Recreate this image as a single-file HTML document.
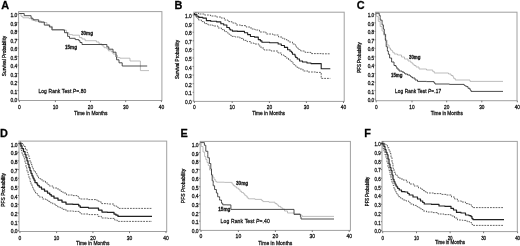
<!DOCTYPE html>
<html><head><meta charset="utf-8"><title>Figure</title>
<style>
html,body{margin:0;padding:0;background:#fff;}
svg{display:block;}
svg text{font-family:"Liberation Sans", sans-serif;fill:#111;stroke:#111;stroke-width:0.26px;}
</style></head><body>
<svg width="520" height="246" viewBox="0 0 520 246">
<rect width="520" height="246" fill="#fff"/>
<defs><filter id="b" x="-5%" y="-5%" width="110%" height="110%"><feGaussianBlur stdDeviation="0.45"/></filter></defs>
<g filter="url(#b)">
<g>
<rect x="18.6" y="11.6" width="143.3" height="88.9" fill="none" stroke="#a0a0a0" stroke-width="1"/>
<text x="1.3" y="9.2" font-size="10.9" font-weight="bold" style="fill:#000">A</text>
<text transform="translate(17.30 102.10) scale(0.880 1)" font-size="5.60" text-anchor="end">0.0</text><line x1="17.4" y1="99.1" x2="18.6" y2="99.1" stroke="#555" stroke-width="0.7"/>
<text transform="translate(17.30 93.60) scale(0.880 1)" font-size="5.60" text-anchor="end">0.1</text><line x1="17.4" y1="90.6" x2="18.6" y2="90.6" stroke="#555" stroke-width="0.7"/>
<text transform="translate(17.30 85.10) scale(0.880 1)" font-size="5.60" text-anchor="end">0.2</text><line x1="17.4" y1="82.1" x2="18.6" y2="82.1" stroke="#555" stroke-width="0.7"/>
<text transform="translate(17.30 76.60) scale(0.880 1)" font-size="5.60" text-anchor="end">0.3</text><line x1="17.4" y1="73.6" x2="18.6" y2="73.6" stroke="#555" stroke-width="0.7"/>
<text transform="translate(17.30 68.10) scale(0.880 1)" font-size="5.60" text-anchor="end">0.4</text><line x1="17.4" y1="65.1" x2="18.6" y2="65.1" stroke="#555" stroke-width="0.7"/>
<text transform="translate(17.30 59.60) scale(0.880 1)" font-size="5.60" text-anchor="end">0.5</text><line x1="17.4" y1="56.6" x2="18.6" y2="56.6" stroke="#555" stroke-width="0.7"/>
<text transform="translate(17.30 51.10) scale(0.880 1)" font-size="5.60" text-anchor="end">0.6</text><line x1="17.4" y1="48.1" x2="18.6" y2="48.1" stroke="#555" stroke-width="0.7"/>
<text transform="translate(17.30 42.60) scale(0.880 1)" font-size="5.60" text-anchor="end">0.7</text><line x1="17.4" y1="39.6" x2="18.6" y2="39.6" stroke="#555" stroke-width="0.7"/>
<text transform="translate(17.30 34.10) scale(0.880 1)" font-size="5.60" text-anchor="end">0.8</text><line x1="17.4" y1="31.1" x2="18.6" y2="31.1" stroke="#555" stroke-width="0.7"/>
<text transform="translate(17.30 25.60) scale(0.880 1)" font-size="5.60" text-anchor="end">0.9</text><line x1="17.4" y1="22.6" x2="18.6" y2="22.6" stroke="#555" stroke-width="0.7"/>
<text transform="translate(17.30 17.10) scale(0.880 1)" font-size="5.60" text-anchor="end">1.0</text><line x1="17.4" y1="14.1" x2="18.6" y2="14.1" stroke="#555" stroke-width="0.7"/>
<text transform="translate(19.30 109.00) scale(0.880 1)" font-size="5.60" text-anchor="middle">0</text><line x1="19.3" y1="100.5" x2="19.3" y2="102.1" stroke="#555" stroke-width="0.8"/>
<text transform="translate(55.40 109.00) scale(0.880 1)" font-size="5.60" text-anchor="middle">10</text><line x1="55.4" y1="100.5" x2="55.4" y2="102.1" stroke="#555" stroke-width="0.8"/>
<text transform="translate(90.50 109.00) scale(0.880 1)" font-size="5.60" text-anchor="middle">20</text><line x1="90.5" y1="100.5" x2="90.5" y2="102.1" stroke="#555" stroke-width="0.8"/>
<text transform="translate(125.70 109.00) scale(0.880 1)" font-size="5.60" text-anchor="middle">30</text><line x1="125.7" y1="100.5" x2="125.7" y2="102.1" stroke="#555" stroke-width="0.8"/>
<text transform="translate(161.40 109.00) scale(0.880 1)" font-size="5.60" text-anchor="middle">40</text><line x1="161.4" y1="100.5" x2="161.4" y2="102.1" stroke="#555" stroke-width="0.8"/>
<text transform="translate(90.80 114.80) scale(0.880 1)" font-size="5.60" text-anchor="middle">Time in Months</text>
<text transform="translate(6.0 56.0) rotate(-90) scale(0.950 1.06)" font-size="5.0" text-anchor="middle">Survival Probability</text>
<path d="M19.1 13.5 H21.0 V16.3 H22.9 V17.8 H29.2 V18.6 H31.7 V20.1 H34.9 V21.1 H41.2 V22.6 H46.9 V24.9 H50.0 V26.4 H52.5 V29.5 H63.2 V30.2 H66.4 V32.7 H68.9 V34.6 H72.5 V35.2 H79.4 V37.6 H82.0 V39.0 H85.1 V40.7 H96.4 V42.0 H99.0 V43.9 H102.0 V45.8 H104.0 V47.7 H107.0 V49.0 H108.4 V50.8 H111.6 V52.0 H113.0 V54.0 H116.0 V55.4 H117.5 V57.6 H120.0 V58.2 H128.0 V58.2 H130.0 V61.0 H140.4 V61.0 H140.4 V70.6 H149.0 V70.6" fill="none" stroke="#acacac" stroke-width="0.8" stroke-linejoin="round"/>
<path d="M19.1 13.5 H24.2 V15.7 H31.1 V18.2 H33.0 V19.8 H38.7 V22.0 H44.3 V25.1 H49.4 V27.0 H51.9 V29.9 H64.5 V32.7 H67.6 V36.4 H69.5 V38.3 H75.2 V39.6 H78.8 V40.7 H80.0 V42.5 H82.0 V44.5 H106.9 V46.9 H108.8 V49.2 H113.0 V52.2 H116.0 V57.0 H116.6 V59.8 H119.0 V62.8 H122.2 V66.0 H147.2 V66.0" fill="none" stroke="#3a3a3a" stroke-width="0.9" stroke-linejoin="round"/>
<text transform="translate(81.00 34.80) scale(0.880 1)" font-size="5.21" text-anchor="start" font-weight="bold">30mg</text>
<text transform="translate(65.00 48.80) scale(0.880 1)" font-size="5.21" text-anchor="start" font-weight="bold">15mg</text>
<text transform="translate(38.40 93.20) scale(0.880 1)" font-size="5.60" text-anchor="start" textLength="54.5">Log Rank Test <tspan font-style="italic">P</tspan>=.80</text>
</g>
<g>
<rect x="193.8" y="12.2" width="150.4" height="89.2" fill="none" stroke="#a0a0a0" stroke-width="1"/>
<text x="174.6" y="9.2" font-size="10.9" font-weight="bold" style="fill:#000">B</text>
<text transform="translate(191.80 103.86) scale(0.880 1)" font-size="5.49" text-anchor="end">0.0</text><line x1="192.6" y1="100.9" x2="193.8" y2="100.9" stroke="#555" stroke-width="0.7"/>
<text transform="translate(191.80 95.27) scale(0.880 1)" font-size="5.49" text-anchor="end">0.1</text><line x1="192.6" y1="92.3" x2="193.8" y2="92.3" stroke="#555" stroke-width="0.7"/>
<text transform="translate(191.80 86.68) scale(0.880 1)" font-size="5.49" text-anchor="end">0.2</text><line x1="192.6" y1="83.7" x2="193.8" y2="83.7" stroke="#555" stroke-width="0.7"/>
<text transform="translate(191.80 78.09) scale(0.880 1)" font-size="5.49" text-anchor="end">0.3</text><line x1="192.6" y1="75.1" x2="193.8" y2="75.1" stroke="#555" stroke-width="0.7"/>
<text transform="translate(191.80 69.50) scale(0.880 1)" font-size="5.49" text-anchor="end">0.4</text><line x1="192.6" y1="66.5" x2="193.8" y2="66.5" stroke="#555" stroke-width="0.7"/>
<text transform="translate(191.80 60.91) scale(0.880 1)" font-size="5.49" text-anchor="end">0.5</text><line x1="192.6" y1="58.0" x2="193.8" y2="58.0" stroke="#555" stroke-width="0.7"/>
<text transform="translate(191.80 52.32) scale(0.880 1)" font-size="5.49" text-anchor="end">0.6</text><line x1="192.6" y1="49.4" x2="193.8" y2="49.4" stroke="#555" stroke-width="0.7"/>
<text transform="translate(191.80 43.73) scale(0.880 1)" font-size="5.49" text-anchor="end">0.7</text><line x1="192.6" y1="40.8" x2="193.8" y2="40.8" stroke="#555" stroke-width="0.7"/>
<text transform="translate(191.80 35.14) scale(0.880 1)" font-size="5.49" text-anchor="end">0.8</text><line x1="192.6" y1="32.2" x2="193.8" y2="32.2" stroke="#555" stroke-width="0.7"/>
<text transform="translate(191.80 26.55) scale(0.880 1)" font-size="5.49" text-anchor="end">0.9</text><line x1="192.6" y1="23.6" x2="193.8" y2="23.6" stroke="#555" stroke-width="0.7"/>
<text transform="translate(191.80 17.96) scale(0.880 1)" font-size="5.49" text-anchor="end">1.0</text><line x1="192.6" y1="15.0" x2="193.8" y2="15.0" stroke="#555" stroke-width="0.7"/>
<text transform="translate(194.40 109.26) scale(0.880 1)" font-size="5.49" text-anchor="middle">0</text><line x1="194.4" y1="101.4" x2="194.4" y2="103.0" stroke="#555" stroke-width="0.8"/>
<text transform="translate(232.20 109.26) scale(0.880 1)" font-size="5.49" text-anchor="middle">10</text><line x1="232.2" y1="101.4" x2="232.2" y2="103.0" stroke="#555" stroke-width="0.8"/>
<text transform="translate(269.40 109.26) scale(0.880 1)" font-size="5.49" text-anchor="middle">20</text><line x1="269.4" y1="101.4" x2="269.4" y2="103.0" stroke="#555" stroke-width="0.8"/>
<text transform="translate(306.40 109.26) scale(0.880 1)" font-size="5.49" text-anchor="middle">30</text><line x1="306.4" y1="101.4" x2="306.4" y2="103.0" stroke="#555" stroke-width="0.8"/>
<text transform="translate(343.50 109.26) scale(0.880 1)" font-size="5.49" text-anchor="middle">40</text><line x1="343.5" y1="101.4" x2="343.5" y2="103.0" stroke="#555" stroke-width="0.8"/>
<text transform="translate(268.60 114.80) scale(0.880 1)" font-size="5.49" text-anchor="middle">Time in Months</text>
<text transform="translate(179.4 59.5) rotate(-90) scale(0.940 1.06)" font-size="4.9" text-anchor="middle">Survival Probability</text>
<path d="M195.0 13.0 H198.50 V14.00 H202.00 H204.50 V15.00 H207.00 H210.50 V16.00 H214.00 H216.50 V17.00 H219.00 H221.00 V18.00 H223.00 H224.50 V20.00 H226.00 H228.00 V21.60 H230.00 H232.00 V23.00 H234.00 H236.00 V25.00 H238.00 H240.50 V25.60 H243.00 H246.00 V27.00 H249.00 H251.00 V29.00 H253.00 H255.00 V30.00 H257.00 H259.50 V32.00 H262.00 H266.00 V34.00 H270.00 H273.00 V35.00 H276.00 H278.50 V37.00 H281.00 H282.25 V38.30 H283.50 H284.75 V39.60 H286.00 H287.00 V40.80 H288.00 H289.00 V42.00 H290.00 H292.50 V44.00 H295.00 V45.00 H296.00 V46.00 V47.00 H297.00 V48.00 H298.25 V49.50 H299.50 H300.75 V51.00 H302.00 H305.00 V52.40 H308.00 H311.00 V53.60 H314.00 H322.15 V53.80 H330.30" fill="none" stroke="#5c5c5c" stroke-width="0.95" stroke-dasharray="1.8 1.0" stroke-linejoin="round"/>
<path d="M195.0 14.4 V15.30 H196.00 V16.20 V17.10 H197.00 V18.00 H198.50 V20.00 H200.00 H201.50 V21.60 H203.00 H204.50 V23.60 H206.00 H208.00 V25.00 H210.00 H213.00 V26.00 H216.00 H218.00 V28.00 H220.00 H221.50 V29.60 H223.00 H224.50 V31.60 H226.00 H226.75 V32.80 H227.50 H228.25 V34.00 H229.00 H229.75 V35.20 H230.50 H231.25 V36.40 H232.00 H235.00 V37.00 H238.00 H240.00 V38.40 H242.00 H243.50 V40.40 H245.00 H247.00 V41.60 H249.00 H250.50 V43.00 H252.00 H254.00 V44.00 H256.00 L258.0 44.0 H259.00 V46.00 H260.00 H261.00 V48.00 H262.00 H264.00 V50.00 H266.00 H271.00 V51.00 H276.00 H278.00 V53.00 H280.00 H281.50 V55.00 H283.00 H284.00 V56.50 H285.00 H286.00 V58.00 H287.00 H288.50 V60.00 H290.00 H290.75 V61.50 H291.50 H292.25 V63.00 H293.00 H293.75 V64.50 H294.50 H295.25 V66.00 H296.00 H297.00 V67.50 H298.00 H299.00 V69.00 H300.00 H303.00 V71.00 H306.00 H308.00 V72.00 H310.00 H315.60 V72.40 H321.20 L321.2 78.4 L330.3 78.4" fill="none" stroke="#5c5c5c" stroke-width="0.95" stroke-dasharray="1.8 1.0" stroke-linejoin="round"/>
<path d="M194.4 13.0 V14.60 H196.90 V16.20 H198.80 V17.40 H200.70 H202.90 V18.10 H205.10 H206.35 V20.60 H207.60 H210.75 V21.20 H213.90 H216.75 V21.90 H219.60 H220.85 V23.70 H222.10 H223.70 V25.00 H225.30 H226.85 V27.50 H228.40 H229.35 V29.00 H230.30 V30.05 H232.40 V31.10 H237.50 V31.40 H242.60 H244.50 V32.70 H246.40 H247.65 V34.60 H248.90 H250.45 V36.50 H252.00 H254.50 V37.10 H257.00 H258.30 V39.60 H259.60 H260.38 V40.90 H261.15 H261.92 V42.20 H262.70 H269.65 V42.80 H276.60 H278.15 V44.00 H279.70 H281.30 V45.50 H282.90 H284.45 V47.40 H286.00 H287.60 V49.80 H289.20 H290.02 V51.20 H290.85 H291.68 V52.60 H292.50 V54.30 H295.00 V56.00 H295.75 V57.50 H296.50 H297.25 V59.00 H298.00 H299.50 V61.00 H301.00 H302.50 V62.00 H304.00 H307.00 V63.00 H310.00 H311.00 V63.60 H312.00 L321.2 63.6 L321.2 68.8 L330.3 68.8" fill="none" stroke="#202020" stroke-width="1.10" stroke-linejoin="round"/>
</g>
<g>
<rect x="375.6" y="12.2" width="141.4" height="88.5" fill="none" stroke="#a0a0a0" stroke-width="1"/>
<text x="356.8" y="9.3" font-size="10.9" font-weight="bold" style="fill:#000">C</text>
<text transform="translate(374.20 102.02) scale(0.880 1)" font-size="5.38" text-anchor="end">0.0</text><line x1="374.4" y1="99.1" x2="375.6" y2="99.1" stroke="#555" stroke-width="0.7"/>
<text transform="translate(374.20 93.55) scale(0.880 1)" font-size="5.38" text-anchor="end">0.1</text><line x1="374.4" y1="90.6" x2="375.6" y2="90.6" stroke="#555" stroke-width="0.7"/>
<text transform="translate(374.20 85.08) scale(0.880 1)" font-size="5.38" text-anchor="end">0.2</text><line x1="374.4" y1="82.2" x2="375.6" y2="82.2" stroke="#555" stroke-width="0.7"/>
<text transform="translate(374.20 76.61) scale(0.880 1)" font-size="5.38" text-anchor="end">0.3</text><line x1="374.4" y1="73.7" x2="375.6" y2="73.7" stroke="#555" stroke-width="0.7"/>
<text transform="translate(374.20 68.14) scale(0.880 1)" font-size="5.38" text-anchor="end">0.4</text><line x1="374.4" y1="65.2" x2="375.6" y2="65.2" stroke="#555" stroke-width="0.7"/>
<text transform="translate(374.20 59.67) scale(0.880 1)" font-size="5.38" text-anchor="end">0.5</text><line x1="374.4" y1="56.8" x2="375.6" y2="56.8" stroke="#555" stroke-width="0.7"/>
<text transform="translate(374.20 51.20) scale(0.880 1)" font-size="5.38" text-anchor="end">0.6</text><line x1="374.4" y1="48.3" x2="375.6" y2="48.3" stroke="#555" stroke-width="0.7"/>
<text transform="translate(374.20 42.73) scale(0.880 1)" font-size="5.38" text-anchor="end">0.7</text><line x1="374.4" y1="39.8" x2="375.6" y2="39.8" stroke="#555" stroke-width="0.7"/>
<text transform="translate(374.20 34.26) scale(0.880 1)" font-size="5.38" text-anchor="end">0.8</text><line x1="374.4" y1="31.3" x2="375.6" y2="31.3" stroke="#555" stroke-width="0.7"/>
<text transform="translate(374.20 25.79) scale(0.880 1)" font-size="5.38" text-anchor="end">0.9</text><line x1="374.4" y1="22.9" x2="375.6" y2="22.9" stroke="#555" stroke-width="0.7"/>
<text transform="translate(374.20 17.32) scale(0.880 1)" font-size="5.38" text-anchor="end">1.0</text><line x1="374.4" y1="14.4" x2="375.6" y2="14.4" stroke="#555" stroke-width="0.7"/>
<text transform="translate(376.20 108.92) scale(0.880 1)" font-size="5.38" text-anchor="middle">0</text><line x1="376.2" y1="100.7" x2="376.2" y2="102.3" stroke="#555" stroke-width="0.8"/>
<text transform="translate(412.00 108.92) scale(0.880 1)" font-size="5.38" text-anchor="middle">10</text><line x1="412.0" y1="100.7" x2="412.0" y2="102.3" stroke="#555" stroke-width="0.8"/>
<text transform="translate(446.70 108.92) scale(0.880 1)" font-size="5.38" text-anchor="middle">20</text><line x1="446.7" y1="100.7" x2="446.7" y2="102.3" stroke="#555" stroke-width="0.8"/>
<text transform="translate(481.80 108.92) scale(0.880 1)" font-size="5.38" text-anchor="middle">30</text><line x1="481.8" y1="100.7" x2="481.8" y2="102.3" stroke="#555" stroke-width="0.8"/>
<text transform="translate(517.30 108.92) scale(0.880 1)" font-size="5.38" text-anchor="middle">40</text><line x1="517.3" y1="100.7" x2="517.3" y2="102.3" stroke="#555" stroke-width="0.8"/>
<text transform="translate(446.80 114.80) scale(0.880 1)" font-size="5.38" text-anchor="middle">Time in Months</text>
<text transform="translate(361.2 57.5) rotate(-90) scale(0.920 1.06)" font-size="4.8" text-anchor="middle">PFS Probability</text>
<path d="M375.8 13.4 H376.20 V14.20 H376.60 V16.55 H378.30 V18.90 V21.40 H380.20 V23.90 V26.45 H382.10 V29.00 V31.00 H383.60 V33.00 V35.00 H385.00 V37.00 V40.00 H387.00 V43.00 V45.00 H389.00 V47.00 V48.00 H390.50 V49.00 V50.00 H392.00 V51.00 H392.75 V52.50 H393.50 H394.25 V54.00 H395.00 H397.50 V55.00 H400.00 H401.50 V57.00 H403.00 H404.50 V59.00 H406.00 H408.00 V61.00 H410.00 H410.75 V62.50 H411.50 H412.25 V64.00 H413.00 H414.00 V65.50 H415.00 H416.00 V67.00 H417.00 H419.00 V69.00 H421.00 H426.50 V70.00 H432.00 H432.75 V71.50 H433.50 H434.25 V73.00 H435.00 L446.0 73.0 H448.50 V74.00 H451.00 V75.50 H453.00 V77.00 H453.75 V78.50 H454.50 H455.25 V80.00 H456.00 L469.0 80.0 H470.00 V81.40 H471.00 L503.0 81.4" fill="none" stroke="#acacac" stroke-width="0.8" stroke-linejoin="round"/>
<path d="M375.8 13.2 L379.2 13.2 V15.40 H380.20 V17.60 V20.15 H382.10 V22.70 V24.90 H383.40 V27.10 V29.15 H384.30 V31.20 V34.30 H385.60 V37.40 V40.60 H386.20 V43.80 V46.70 H387.40 V49.60 V51.10 H388.40 V52.60 V54.30 H389.60 V56.00 V58.00 H391.60 V60.00 V62.00 H394.00 V64.00 V65.50 H396.00 V67.00 H397.00 V69.00 H398.00 H399.00 V71.00 H400.00 H402.00 V72.00 H404.00 V73.00 H405.00 V74.00 H407.50 V75.00 H410.00 V76.00 H411.00 V77.00 H412.50 V78.00 H414.00 H415.00 V80.00 H416.00 H417.50 V81.40 H419.00 H426.50 V81.60 H434.00 V82.80 H435.00 V84.00 H449.50 V84.40 H464.00 V85.20 H465.00 V86.00 H466.50 V86.60 H468.00 V88.30 H470.00 V90.00 H471.00 V91.40 H472.00 L503.0 91.4" fill="none" stroke="#3a3a3a" stroke-width="0.9" stroke-linejoin="round"/>
<text transform="translate(409.00 59.00) scale(0.880 1)" font-size="5.00" text-anchor="start" font-weight="bold">30mg</text>
<text transform="translate(391.00 77.40) scale(0.880 1)" font-size="5.00" text-anchor="start" font-weight="bold">15mg</text>
<text transform="translate(395.00 93.20) scale(0.880 1)" font-size="5.38" text-anchor="start" textLength="52.3">Log Rank Test <tspan font-style="italic">P</tspan>=.17</text>
</g>
<g>
<rect x="19.0" y="141.1" width="147.7" height="90.4" fill="none" stroke="#a0a0a0" stroke-width="1"/>
<text x="-0.1" y="137.2" font-size="10.9" font-weight="bold" style="fill:#000">D</text>
<text transform="translate(17.60 233.40) scale(0.880 1)" font-size="5.60" text-anchor="end">0.0</text><line x1="17.8" y1="230.4" x2="19.0" y2="230.4" stroke="#555" stroke-width="0.7"/>
<text transform="translate(17.60 224.71) scale(0.880 1)" font-size="5.60" text-anchor="end">0.1</text><line x1="17.8" y1="221.7" x2="19.0" y2="221.7" stroke="#555" stroke-width="0.7"/>
<text transform="translate(17.60 216.02) scale(0.880 1)" font-size="5.60" text-anchor="end">0.2</text><line x1="17.8" y1="213.0" x2="19.0" y2="213.0" stroke="#555" stroke-width="0.7"/>
<text transform="translate(17.60 207.33) scale(0.880 1)" font-size="5.60" text-anchor="end">0.3</text><line x1="17.8" y1="204.3" x2="19.0" y2="204.3" stroke="#555" stroke-width="0.7"/>
<text transform="translate(17.60 198.64) scale(0.880 1)" font-size="5.60" text-anchor="end">0.4</text><line x1="17.8" y1="195.6" x2="19.0" y2="195.6" stroke="#555" stroke-width="0.7"/>
<text transform="translate(17.60 189.95) scale(0.880 1)" font-size="5.60" text-anchor="end">0.5</text><line x1="17.8" y1="186.9" x2="19.0" y2="186.9" stroke="#555" stroke-width="0.7"/>
<text transform="translate(17.60 181.26) scale(0.880 1)" font-size="5.60" text-anchor="end">0.6</text><line x1="17.8" y1="178.3" x2="19.0" y2="178.3" stroke="#555" stroke-width="0.7"/>
<text transform="translate(17.60 172.57) scale(0.880 1)" font-size="5.60" text-anchor="end">0.7</text><line x1="17.8" y1="169.6" x2="19.0" y2="169.6" stroke="#555" stroke-width="0.7"/>
<text transform="translate(17.60 163.88) scale(0.880 1)" font-size="5.60" text-anchor="end">0.8</text><line x1="17.8" y1="160.9" x2="19.0" y2="160.9" stroke="#555" stroke-width="0.7"/>
<text transform="translate(17.60 155.19) scale(0.880 1)" font-size="5.60" text-anchor="end">0.9</text><line x1="17.8" y1="152.2" x2="19.0" y2="152.2" stroke="#555" stroke-width="0.7"/>
<text transform="translate(17.60 146.50) scale(0.880 1)" font-size="5.60" text-anchor="end">1.0</text><line x1="17.8" y1="143.5" x2="19.0" y2="143.5" stroke="#555" stroke-width="0.7"/>
<text transform="translate(19.90 239.80) scale(0.880 1)" font-size="5.60" text-anchor="middle">0</text><line x1="19.9" y1="231.5" x2="19.9" y2="233.1" stroke="#555" stroke-width="0.8"/>
<text transform="translate(56.60 239.80) scale(0.880 1)" font-size="5.60" text-anchor="middle">10</text><line x1="56.6" y1="231.5" x2="56.6" y2="233.1" stroke="#555" stroke-width="0.8"/>
<text transform="translate(92.90 239.80) scale(0.880 1)" font-size="5.60" text-anchor="middle">20</text><line x1="92.9" y1="231.5" x2="92.9" y2="233.1" stroke="#555" stroke-width="0.8"/>
<text transform="translate(129.50 239.80) scale(0.880 1)" font-size="5.60" text-anchor="middle">30</text><line x1="129.5" y1="231.5" x2="129.5" y2="233.1" stroke="#555" stroke-width="0.8"/>
<text transform="translate(166.00 239.80) scale(0.880 1)" font-size="5.60" text-anchor="middle">40</text><line x1="166.0" y1="231.5" x2="166.0" y2="233.1" stroke="#555" stroke-width="0.8"/>
<text transform="translate(92.80 244.60) scale(0.880 1)" font-size="5.60" text-anchor="middle">Time in Months</text>
<text transform="translate(5.3 189.8) rotate(-90) scale(0.980 1.06)" font-size="5.0" text-anchor="middle">PFS Probability</text>
<path d="M20.0 142.0 H21.00 V143.50 H22.00 H23.00 V145.00 H24.00 V146.50 H25.50 V148.00 V149.50 H27.00 V151.00 V152.50 H28.00 V154.00 V155.50 H29.00 V157.00 V158.50 H30.00 V160.00 V161.50 H31.00 V163.00 V164.50 H32.00 V166.00 V167.00 H33.00 V168.00 V169.00 H34.00 V170.00 V171.25 H35.50 V172.50 V173.75 H37.00 V175.00 V176.00 H38.50 V177.00 V178.00 H40.00 V179.00 H42.00 V181.00 H44.00 H45.50 V183.00 H47.00 H47.75 V184.50 H48.50 H49.25 V186.00 H50.00 H53.00 V188.00 H56.00 H58.00 V190.00 H60.00 H61.00 V191.50 H62.00 H63.00 V193.00 H64.00 H66.50 V195.00 H69.00 H73.00 V195.60 H77.00 V196.45 H78.50 V197.30 V198.15 H80.00 V199.00 H88.00 V199.60 H96.00 H97.00 V200.80 H98.00 H99.00 V202.00 H100.00 H101.50 V203.60 H103.00 H107.50 V204.00 H112.00 H114.00 V206.00 H116.00 H116.75 V207.20 H117.50 H118.25 V208.40 H119.00 L152.0 208.4" fill="none" stroke="#5c5c5c" stroke-width="0.95" stroke-dasharray="1.8 1.0" stroke-linejoin="round"/>
<path d="M20.0 143.0 V146.00 H21.00 V149.00 V150.50 H22.00 V152.00 V153.50 H23.00 V155.00 V156.25 H24.00 V157.50 V158.75 H25.00 V160.00 V163.00 H26.00 V166.00 V167.75 H27.00 V169.50 V171.25 H28.00 V173.00 V174.75 H29.00 V176.50 V178.25 H30.00 V180.00 V181.50 H31.00 V183.00 V184.50 H32.00 V186.00 V187.00 H33.00 V188.00 V189.00 H34.00 V190.00 V191.00 H35.50 V192.00 V193.00 H37.00 V194.00 H37.75 V195.50 H38.50 H39.25 V197.00 H40.00 H42.50 V199.00 H45.00 H46.00 V200.20 H47.00 H48.00 V201.40 H49.00 H50.25 V202.70 H51.50 H52.75 V204.00 H54.00 H55.25 V205.50 H56.50 H57.75 V207.00 H59.00 H60.25 V208.20 H61.50 H62.75 V209.40 H64.00 H66.00 V211.00 H68.00 H73.50 V211.40 H79.00 H79.75 V212.70 H80.50 H81.25 V214.00 H82.00 H89.00 V214.60 H96.00 H98.00 V216.40 H100.00 H101.50 V218.00 H103.00 H108.00 V218.40 H113.00 H114.50 V220.00 H116.00 H117.20 V221.40 H118.40 L152.0 221.4" fill="none" stroke="#5c5c5c" stroke-width="0.95" stroke-dasharray="1.8 1.0" stroke-linejoin="round"/>
<path d="M20.0 142.6 V143.70 H21.00 V144.80 V145.90 H22.00 V147.00 V148.50 H23.50 V150.00 V151.50 H25.00 V153.00 V154.50 H26.00 V156.00 V157.50 H27.00 V159.00 V160.75 H28.00 V162.50 V164.25 H29.00 V166.00 V167.50 H30.00 V169.00 V170.50 H31.00 V172.00 V173.25 H32.00 V174.50 V175.75 H33.00 V177.00 V178.00 H34.00 V179.00 V180.00 H35.00 V181.00 V182.50 H37.00 V184.00 H37.75 V185.50 H38.50 H39.25 V187.00 H40.00 H41.50 V189.00 H43.00 H44.50 V191.00 H46.00 H47.50 V193.00 H49.00 H49.75 V194.50 H50.50 H51.25 V196.00 H52.00 H54.00 V198.00 H56.00 H58.00 V200.00 H60.00 H62.00 V202.00 H64.00 H66.00 V204.00 H68.00 H73.00 V204.40 H78.00 H78.75 V205.90 H79.50 H80.25 V207.40 H81.00 H88.50 V208.00 H96.00 H98.50 V210.00 H101.00 H102.00 V212.00 H103.00 H107.50 V212.40 H112.00 H114.00 V214.00 H116.00 V215.20 H118.00 V216.40 L152.0 216.4" fill="none" stroke="#202020" stroke-width="1.25" stroke-linejoin="round"/>
</g>
<g>
<rect x="200.2" y="141.4" width="150.2" height="89.0" fill="none" stroke="#a0a0a0" stroke-width="1"/>
<text x="180.4" y="137.2" font-size="10.9" font-weight="bold" style="fill:#000">E</text>
<text transform="translate(198.60 232.74) scale(0.880 1)" font-size="5.71" text-anchor="end">0.0</text><line x1="199.0" y1="229.7" x2="200.2" y2="229.7" stroke="#555" stroke-width="0.7"/>
<text transform="translate(198.60 224.17) scale(0.880 1)" font-size="5.71" text-anchor="end">0.1</text><line x1="199.0" y1="221.1" x2="200.2" y2="221.1" stroke="#555" stroke-width="0.7"/>
<text transform="translate(198.60 215.60) scale(0.880 1)" font-size="5.71" text-anchor="end">0.2</text><line x1="199.0" y1="212.6" x2="200.2" y2="212.6" stroke="#555" stroke-width="0.7"/>
<text transform="translate(198.60 207.03) scale(0.880 1)" font-size="5.71" text-anchor="end">0.3</text><line x1="199.0" y1="204.0" x2="200.2" y2="204.0" stroke="#555" stroke-width="0.7"/>
<text transform="translate(198.60 198.46) scale(0.880 1)" font-size="5.71" text-anchor="end">0.4</text><line x1="199.0" y1="195.4" x2="200.2" y2="195.4" stroke="#555" stroke-width="0.7"/>
<text transform="translate(198.60 189.89) scale(0.880 1)" font-size="5.71" text-anchor="end">0.5</text><line x1="199.0" y1="186.8" x2="200.2" y2="186.8" stroke="#555" stroke-width="0.7"/>
<text transform="translate(198.60 181.32) scale(0.880 1)" font-size="5.71" text-anchor="end">0.6</text><line x1="199.0" y1="178.3" x2="200.2" y2="178.3" stroke="#555" stroke-width="0.7"/>
<text transform="translate(198.60 172.75) scale(0.880 1)" font-size="5.71" text-anchor="end">0.7</text><line x1="199.0" y1="169.7" x2="200.2" y2="169.7" stroke="#555" stroke-width="0.7"/>
<text transform="translate(198.60 164.18) scale(0.880 1)" font-size="5.71" text-anchor="end">0.8</text><line x1="199.0" y1="161.1" x2="200.2" y2="161.1" stroke="#555" stroke-width="0.7"/>
<text transform="translate(198.60 155.61) scale(0.880 1)" font-size="5.71" text-anchor="end">0.9</text><line x1="199.0" y1="152.6" x2="200.2" y2="152.6" stroke="#555" stroke-width="0.7"/>
<text transform="translate(198.60 147.04) scale(0.880 1)" font-size="5.71" text-anchor="end">1.0</text><line x1="199.0" y1="144.0" x2="200.2" y2="144.0" stroke="#555" stroke-width="0.7"/>
<text transform="translate(201.00 238.34) scale(0.880 1)" font-size="5.71" text-anchor="middle">0</text><line x1="201.0" y1="230.4" x2="201.0" y2="232.0" stroke="#555" stroke-width="0.8"/>
<text transform="translate(238.40 238.34) scale(0.880 1)" font-size="5.71" text-anchor="middle">10</text><line x1="238.4" y1="230.4" x2="238.4" y2="232.0" stroke="#555" stroke-width="0.8"/>
<text transform="translate(275.40 238.34) scale(0.880 1)" font-size="5.71" text-anchor="middle">20</text><line x1="275.4" y1="230.4" x2="275.4" y2="232.0" stroke="#555" stroke-width="0.8"/>
<text transform="translate(312.30 238.34) scale(0.880 1)" font-size="5.71" text-anchor="middle">30</text><line x1="312.3" y1="230.4" x2="312.3" y2="232.0" stroke="#555" stroke-width="0.8"/>
<text transform="translate(349.20 238.34) scale(0.880 1)" font-size="5.71" text-anchor="middle">40</text><line x1="349.2" y1="230.4" x2="349.2" y2="232.0" stroke="#555" stroke-width="0.8"/>
<text transform="translate(275.30 244.80) scale(0.880 1)" font-size="5.71" text-anchor="middle">Time in Months</text>
<text transform="translate(185.4 186.0) rotate(-90) scale(0.980 1.06)" font-size="5.1" text-anchor="middle">PFS Probability</text>
<path d="M200.4 142.8 V143.40 H201.20 V144.00 V146.50 H203.00 V149.00 V152.00 H204.60 V155.00 V156.50 H205.80 V158.00 V159.50 H207.00 V161.00 V162.50 H208.25 V164.00 V165.50 H209.50 V167.00 V170.00 H211.50 V173.00 V174.35 H212.75 V175.70 V177.05 H214.00 V178.40 V179.35 H215.30 V180.30 V181.25 H216.60 V182.20 H224.35 V182.40 H232.10 V184.00 H233.30 V185.60 H234.90 V186.80 H236.50 V188.05 H238.40 V189.30 H239.95 V191.20 H241.50 V192.45 H243.40 V193.70 H244.65 V195.20 H245.90 V196.10 H247.20 V197.00 V197.90 H248.50 V198.80 H255.10 V199.40 H261.70 V200.50 H262.90 V201.60 H268.95 V202.20 H275.00 V203.60 H277.00 V205.00 H278.50 V206.40 H280.00 H280.75 V207.70 H281.50 H282.25 V209.00 H283.00 H284.50 V211.00 H286.00 H287.50 V213.00 H289.00 H294.50 V213.60 H300.00 V215.00 H302.00 V216.40 L334.0 216.4" fill="none" stroke="#acacac" stroke-width="0.8" stroke-linejoin="round"/>
<path d="M200.4 142.6 L204.4 142.6 V145.30 H205.80 V148.00 V151.25 H207.80 V154.50 V157.75 H209.40 V161.00 V163.50 H210.80 V166.00 V169.00 H211.50 V172.00 V175.00 H212.20 V178.00 V180.75 H213.20 V183.50 V185.75 H214.60 V188.00 V189.50 H216.40 V191.00 V193.00 H217.70 V195.00 V196.80 H219.60 V198.60 V200.10 H221.50 V201.60 V203.20 H222.70 V204.80 H226.80 V204.90 H230.90 L230.9 209.4 L294.0 209.4 L294.0 214.4 L300.4 214.4 V216.70 H301.00 V219.00 L334.0 219.0" fill="none" stroke="#3a3a3a" stroke-width="0.9" stroke-linejoin="round"/>
<text transform="translate(236.00 185.20) scale(0.880 1)" font-size="5.31" text-anchor="start" font-weight="bold">30mg</text>
<text transform="translate(218.20 211.00) scale(0.880 1)" font-size="5.31" text-anchor="start" font-weight="bold">15mg</text>
<text transform="translate(220.60 223.20) scale(0.880 1)" font-size="5.71" text-anchor="start" textLength="55.9">Log Rank Test <tspan font-style="italic">P</tspan>=.40</text>
</g>
<g>
<rect x="382.0" y="141.4" width="135.3" height="90.2" fill="none" stroke="#a0a0a0" stroke-width="1"/>
<text x="364.3" y="137.2" font-size="10.9" font-weight="bold" style="fill:#000">F</text>
<text transform="translate(380.60 233.20) scale(0.880 1)" font-size="5.04" text-anchor="end">0.0</text><line x1="380.8" y1="230.4" x2="382.0" y2="230.4" stroke="#555" stroke-width="0.7"/>
<text transform="translate(380.60 224.51) scale(0.880 1)" font-size="5.04" text-anchor="end">0.1</text><line x1="380.8" y1="221.7" x2="382.0" y2="221.7" stroke="#555" stroke-width="0.7"/>
<text transform="translate(380.60 215.82) scale(0.880 1)" font-size="5.04" text-anchor="end">0.2</text><line x1="380.8" y1="213.0" x2="382.0" y2="213.0" stroke="#555" stroke-width="0.7"/>
<text transform="translate(380.60 207.13) scale(0.880 1)" font-size="5.04" text-anchor="end">0.3</text><line x1="380.8" y1="204.3" x2="382.0" y2="204.3" stroke="#555" stroke-width="0.7"/>
<text transform="translate(380.60 198.44) scale(0.880 1)" font-size="5.04" text-anchor="end">0.4</text><line x1="380.8" y1="195.6" x2="382.0" y2="195.6" stroke="#555" stroke-width="0.7"/>
<text transform="translate(380.60 189.75) scale(0.880 1)" font-size="5.04" text-anchor="end">0.5</text><line x1="380.8" y1="186.9" x2="382.0" y2="186.9" stroke="#555" stroke-width="0.7"/>
<text transform="translate(380.60 181.06) scale(0.880 1)" font-size="5.04" text-anchor="end">0.6</text><line x1="380.8" y1="178.3" x2="382.0" y2="178.3" stroke="#555" stroke-width="0.7"/>
<text transform="translate(380.60 172.37) scale(0.880 1)" font-size="5.04" text-anchor="end">0.7</text><line x1="380.8" y1="169.6" x2="382.0" y2="169.6" stroke="#555" stroke-width="0.7"/>
<text transform="translate(380.60 163.68) scale(0.880 1)" font-size="5.04" text-anchor="end">0.8</text><line x1="380.8" y1="160.9" x2="382.0" y2="160.9" stroke="#555" stroke-width="0.7"/>
<text transform="translate(380.60 154.99) scale(0.880 1)" font-size="5.04" text-anchor="end">0.9</text><line x1="380.8" y1="152.2" x2="382.0" y2="152.2" stroke="#555" stroke-width="0.7"/>
<text transform="translate(380.60 146.30) scale(0.880 1)" font-size="5.04" text-anchor="end">1.0</text><line x1="380.8" y1="143.5" x2="382.0" y2="143.5" stroke="#555" stroke-width="0.7"/>
<text transform="translate(382.70 239.60) scale(0.880 1)" font-size="5.04" text-anchor="middle">0</text><line x1="382.7" y1="231.6" x2="382.7" y2="233.2" stroke="#555" stroke-width="0.8"/>
<text transform="translate(416.50 239.60) scale(0.880 1)" font-size="5.04" text-anchor="middle">10</text><line x1="416.5" y1="231.6" x2="416.5" y2="233.2" stroke="#555" stroke-width="0.8"/>
<text transform="translate(450.10 239.60) scale(0.880 1)" font-size="5.04" text-anchor="middle">20</text><line x1="450.1" y1="231.6" x2="450.1" y2="233.2" stroke="#555" stroke-width="0.8"/>
<text transform="translate(483.60 239.60) scale(0.880 1)" font-size="5.04" text-anchor="middle">30</text><line x1="483.6" y1="231.6" x2="483.6" y2="233.2" stroke="#555" stroke-width="0.8"/>
<text transform="translate(517.60 239.60) scale(0.880 1)" font-size="5.04" text-anchor="middle">40</text><line x1="517.6" y1="231.6" x2="517.6" y2="233.2" stroke="#555" stroke-width="0.8"/>
<text transform="translate(450.00 244.40) scale(0.880 1)" font-size="5.04" text-anchor="middle">Time in Months</text>
<text transform="translate(369.0 191.5) rotate(-90) scale(0.950 1.06)" font-size="4.5" text-anchor="middle">PFS Probability</text>
<path d="M382.0 142.0 H384.00 V144.00 H386.00 V145.25 H387.50 V146.50 V147.75 H389.00 V149.00 V150.50 H390.00 V152.00 V153.50 H391.00 V155.00 V157.50 H392.00 V160.00 V163.00 H393.00 V166.00 V168.50 H394.00 V171.00 V172.25 H395.50 V173.50 V174.75 H397.00 V176.00 H398.00 V177.50 H399.00 H400.00 V179.00 H401.00 H403.00 V180.00 H405.00 H406.50 V182.00 H408.00 H409.50 V184.00 H411.00 H414.00 V186.00 H417.00 H418.50 V188.00 H420.00 H421.00 V189.30 H422.00 H423.00 V190.60 H424.00 H425.00 V191.80 H426.00 H427.00 V193.00 H428.00 H433.50 V193.60 H439.00 H441.00 V194.40 H443.00 H446.50 V195.00 H450.00 H451.50 V197.00 H453.00 H454.50 V199.00 H456.00 H457.50 V201.00 H459.00 H461.50 V202.00 H464.00 H465.50 V203.60 H467.00 H469.00 V204.40 H471.00 V205.20 H472.00 V206.00 V206.80 H473.00 V207.60 L504.0 207.6" fill="none" stroke="#5c5c5c" stroke-width="0.95" stroke-dasharray="1.8 1.0" stroke-linejoin="round"/>
<path d="M382.0 143.0 V145.00 H383.00 V147.00 V148.50 H384.00 V150.00 V151.50 H385.00 V153.00 V154.75 H386.00 V156.50 V158.25 H387.00 V160.00 V163.00 H388.00 V166.00 V167.50 H389.00 V169.00 V170.50 H390.00 V172.00 V175.00 H391.00 V178.00 V179.50 H392.00 V181.00 V182.50 H393.00 V184.00 V185.50 H394.00 V187.00 V188.50 H395.00 V190.00 V191.00 H396.00 V192.00 V193.00 H397.00 V194.00 V194.90 H398.50 V195.80 V196.70 H400.00 V197.60 H401.00 V198.80 H402.00 H403.00 V200.00 H404.00 H406.00 V201.00 H408.00 H408.75 V202.50 H409.50 H410.25 V204.00 H411.00 H413.50 V205.40 H416.00 H417.00 V206.70 H418.00 H419.00 V208.00 H420.00 H421.00 V209.50 H422.00 H423.00 V211.00 H424.00 H426.50 V212.00 H429.00 H433.00 V212.60 H437.00 H438.00 V214.00 H439.00 H444.00 V214.60 H449.00 H451.00 V216.00 H453.00 H454.50 V218.00 H456.00 H457.50 V220.00 H459.00 H462.50 V220.40 H466.00 H467.00 V221.60 H468.00 H469.50 V222.00 H471.00 V222.85 H472.00 V223.70 V224.55 H473.00 V225.40 L504.0 225.4" fill="none" stroke="#5c5c5c" stroke-width="0.95" stroke-dasharray="1.8 1.0" stroke-linejoin="round"/>
<path d="M382.0 142.6 V143.80 H384.00 V145.00 V146.50 H385.00 V148.00 V149.50 H386.00 V151.00 V152.25 H387.00 V153.50 V154.75 H388.00 V156.00 V159.00 H389.00 V162.00 V164.00 H390.00 V166.00 V167.50 H391.00 V169.00 V170.50 H392.00 V172.00 V175.00 H393.00 V178.00 V179.25 H394.00 V180.50 V181.75 H395.00 V183.00 V184.00 H396.00 V185.00 V186.00 H397.00 V187.00 H397.75 V188.50 H398.50 H399.25 V190.00 H400.00 H401.50 V191.60 H403.00 H405.00 V192.00 H407.00 H407.75 V193.50 H408.50 H409.25 V195.00 H410.00 H413.00 V197.00 H416.00 H417.50 V199.00 H419.00 H420.50 V201.00 H422.00 H422.75 V202.50 H423.50 H424.25 V204.00 H425.00 H431.50 V204.40 H438.00 H439.00 V206.00 H440.00 H445.00 V206.40 H450.00 H451.00 V208.40 H452.00 H453.50 V210.00 H455.00 H456.50 V212.40 H458.00 H461.00 V213.00 H464.00 H465.50 V215.00 H467.00 H469.00 V215.60 H471.00 V216.60 H472.00 V217.60 V218.60 H473.00 V219.60 L504.0 219.6" fill="none" stroke="#202020" stroke-width="1.20" stroke-linejoin="round"/>
</g>
</g>
</svg>
</body></html>
